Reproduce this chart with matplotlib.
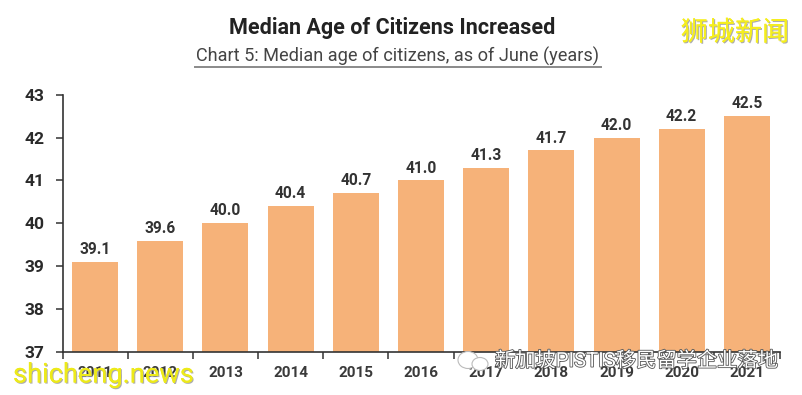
import matplotlib.pyplot as plt
import matplotlib.patheffects as pe
from matplotlib.patches import Ellipse

years = ['2011', '2012', '2013', '2014', '2015', '2016', '2017', '2018', '2019', '2020', '2021']
median_age = [39.1, 39.6, 40.0, 40.4, 40.7, 41.0, 41.3, 41.7, 42.0, 42.2, 42.5]
y_ticks = [37, 38, 39, 40, 41, 42, 43]

W, H = 802, 395
plt.rcParams['font.family'] = ['Roboto', 'Noto Sans CJK SC', 'DejaVu Sans']

fig = plt.figure(figsize=(W / 100, H / 100), dpi=100)
# axes box in pixels
left, right, top, bottom = 62.5, 779.5, 94.7, 352
ax = fig.add_axes([left / W, 1 - bottom / H, (right - left) / W, (bottom - top) / H])

xs = list(range(len(years)))
ax.bar(xs, median_age, width=0.705, color='#F6B279')
ax.set_xlim(-0.5, len(years) - 0.5)
ax.set_ylim(37, 43)

# labels above bars
for x, v in zip(xs, median_age):
    ax.annotate(f'{v:.1f}', (x, v), xytext=(0, 3.5), textcoords='offset points',
                ha='center', va='bottom', fontsize=11.2, fontweight='bold', color='#333333')

for s in ['top', 'right']:
    ax.spines[s].set_visible(False)
for s in ['left', 'bottom']:
    ax.spines[s].set_color('#333333')
    ax.spines[s].set_linewidth(1.2)

ax.set_yticks(y_ticks)
ax.tick_params(axis='y', length=5, width=1.1, color='#333333', pad=8, labelsize=12.5,
               labelcolor='#2a2a2a')
for lab in ax.get_yticklabels():
    lab.set_fontweight('bold')

# ticks sit between the bars, year labels sit under the bars
ax.set_xticks([i - 0.5 for i in range(len(years) + 1)])
ax.set_xticklabels([])
ax.tick_params(axis='x', length=5, width=1.1, color='#333333')
for x, y in zip(xs, years):
    ax.annotate(y, (x, 37), xytext=(0, -10), textcoords='offset points', ha='center', va='top',
                fontsize=11, fontweight='bold', color='#3a3a3a', annotation_clip=False)

# titles
fig.text(392 / W, 1 - 28 / H, 'Median Age of Citizens Increased', ha='center', va='center',
         fontsize=15.5, fontweight='bold', color='#222222')
fig.text(398 / W, 1 - 56 / H, 'Chart 5: Median age of citizens, as of June (years)', ha='center',
         va='center', fontsize=13.1, color='#444444')
fig.add_artist(plt.Line2D([195 / W, 601 / W], [1 - 66.5 / H, 1 - 66.5 / H], color='#8a8a8a', lw=1.4))

# watermarks
shadow = [pe.withSimplePatchShadow(offset=(0.8, -0.8), shadow_rgbFace='#999999', alpha=0.8), pe.Normal()]
fig.text(735 / W, 1 - 33 / H, '狮城新闻', ha='center', va='center', fontsize=19.5, color='#F5EE1E',
         path_effects=shadow)
fig.text(13 / W, 1 - 375 / H, 'shicheng.news', ha='left', va='center', fontsize=19.6, color='#EDEA1A',
         path_effects=shadow)
fig.text(636 / W, 1 - 361 / H, '新加坡PISTIS移民留学企业落地', ha='center', va='center', fontsize=14.6,
         color='white', path_effects=[pe.withStroke(linewidth=1.2, foreground='#555555')])
# small chat-bubble logo next to the caption
for cx, cy, w, h in [(468, 360, 20, 17), (480, 364, 16, 13)]:
    fig.add_artist(Ellipse((cx / W, 1 - cy / H), w / W, h / H, transform=fig.transFigure,
                           facecolor='white', edgecolor='#bbbbbb', lw=0.8))

fig.savefig('out.png', dpi=100)
